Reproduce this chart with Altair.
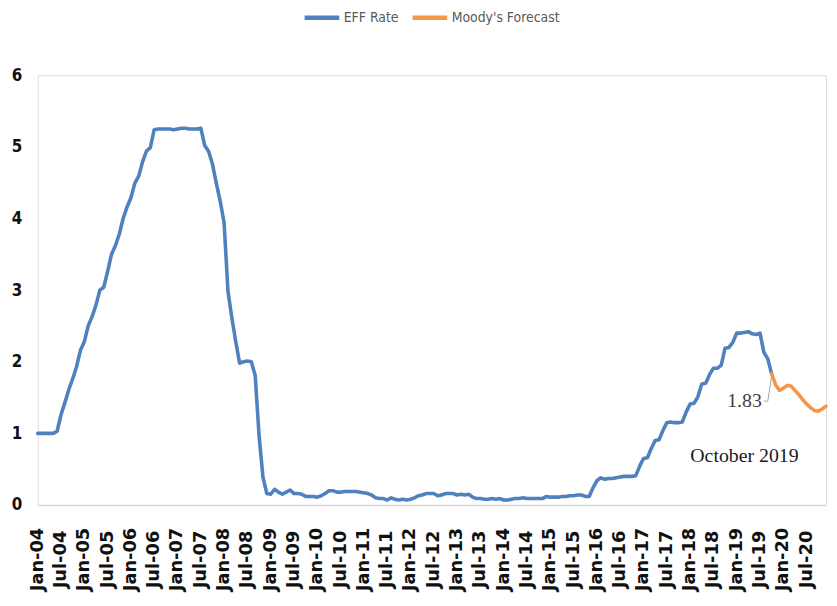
import altair as alt
import pandas as pd

# ---- data (monthly) ----
eff_rate = [
    # 2004
    1.00, 1.00, 1.00, 1.00, 1.00, 1.03, 1.26, 1.43, 1.61, 1.76, 1.93, 2.16,
    # 2005
    2.28, 2.50, 2.63, 2.79, 3.00, 3.04, 3.26, 3.50, 3.62, 3.78, 4.00, 4.16,
    # 2006
    4.29, 4.49, 4.59, 4.79, 4.94, 4.99, 5.24, 5.25, 5.25, 5.25, 5.25, 5.24,
    # 2007
    5.25, 5.26, 5.26, 5.25, 5.25, 5.25, 5.26, 5.02, 4.94, 4.76, 4.49, 4.24,
    # 2008
    3.94, 2.98, 2.61, 2.28, 1.98, 2.00, 2.01, 2.00, 1.81, 0.97, 0.39, 0.16,
    # 2009
    0.15, 0.22, 0.18, 0.15, 0.18, 0.21, 0.16, 0.16, 0.15, 0.12, 0.12, 0.12,
    # 2010
    0.11, 0.13, 0.16, 0.20, 0.20, 0.18, 0.18, 0.19, 0.19, 0.19, 0.19, 0.18,
    # 2011
    0.17, 0.16, 0.14, 0.10, 0.09, 0.09, 0.07, 0.10, 0.08, 0.07, 0.08, 0.07,
    # 2012
    0.08, 0.10, 0.13, 0.14, 0.16, 0.16, 0.16, 0.13, 0.14, 0.16, 0.16, 0.16,
    # 2013
    0.14, 0.15, 0.14, 0.15, 0.11, 0.09, 0.09, 0.08, 0.08, 0.09, 0.08, 0.09,
    # 2014
    0.07, 0.07, 0.08, 0.09, 0.09, 0.10, 0.09, 0.09, 0.09, 0.09, 0.09, 0.12,
    # 2015
    0.11, 0.11, 0.11, 0.12, 0.12, 0.13, 0.13, 0.14, 0.14, 0.12, 0.12, 0.24,
    # 2016
    0.34, 0.38, 0.36, 0.37, 0.37, 0.38, 0.39, 0.40, 0.40, 0.40, 0.41, 0.54,
    # 2017
    0.65, 0.66, 0.79, 0.90, 0.91, 1.04, 1.15, 1.16, 1.15, 1.15, 1.16, 1.30,
    # 2018
    1.41, 1.42, 1.51, 1.69, 1.70, 1.82, 1.91, 1.91, 1.95, 2.19, 2.20, 2.27,
    # 2019 (Jan-Oct)
    2.40, 2.40, 2.41, 2.42, 2.39, 2.38, 2.40, 2.13, 2.04, 1.83,
]

# Moody's forecast, Oct-2019 .. Dec-2020
forecast = [1.83, 1.68, 1.60, 1.63, 1.67, 1.66, 1.60, 1.54, 1.47, 1.41,
            1.36, 1.32, 1.31, 1.34, 1.38]

series_names = ["EFF Rate", "Moody's Forecast"]
series_colors = ["#4F81BD", "#F79646"]

# category-axis tick labels (every 6 months)
tick_labels = [f"{m}-{y:02d}" for y in range(4, 21) for m in ("Jan", "Jul")]

# annotation texts (position given as month and value)
note_labels = ["1.83", "October 2019"]
note_months = ["2019-03", "2019-03"]
note_values = [1.45, 0.69]
note_colors = ["#404040", "#1a1a1a"]

# leader line from the label to the Oct-2019 point
leader_months = ["2019-08", "2019-09", "2019-10"]
leader_values = [1.45, 1.45, 1.80]

START = pd.Period("2004-01", freq="M")


def month_index(periods):
    return [(pd.Period(p, freq="M") - START).n for p in periods]


# ---- tables ----
eff_months = pd.period_range("2004-01", periods=len(eff_rate), freq="M")
fc_months = pd.period_range("2019-10", periods=len(forecast), freq="M")

df = pd.concat([
    pd.DataFrame({"month": eff_months.astype(str), "value": eff_rate,
                  "series": series_names[0]}),
    pd.DataFrame({"month": fc_months.astype(str), "value": forecast,
                  "series": series_names[1]}),
], ignore_index=True)
df["m"] = month_index(df["month"])

notes = pd.DataFrame({"m": month_index(note_months), "value": note_values,
                      "label": note_labels, "color": note_colors})
leader = pd.DataFrame({"m": month_index(leader_months), "value": leader_values})
ticks_df = pd.DataFrame({"m": list(range(0, 6 * len(tick_labels), 6)),
                         "label": tick_labels})

PLOT_W, PLOT_H = 796, 434

x_scale = alt.Scale(domain=[0, len(eff_rate) + len(forecast) - 2], nice=False, zero=False)
y_scale = alt.Scale(domain=[0, 6])

x_axis = alt.Axis(labels=False, title=None, ticks=False, grid=False,
                  domainColor="#d9d9d9", domainWidth=1.5)
y_axis = alt.Axis(values=[0, 1, 2, 3, 4, 5, 6], format="d", title=None, domain=False,
                  ticks=False, grid=False, labelPadding=16,
                  labelFont="DejaVu Sans Condensed, Roboto Condensed, Liberation Sans",
                  labelFontWeight="bold", labelFontSize=17, labelColor="#111111")

lines = alt.Chart(df).mark_line(strokeWidth=3.6, strokeJoin="round", strokeCap="round").encode(
    x=alt.X("m:Q", scale=x_scale, axis=x_axis),
    y=alt.Y("value:Q", scale=y_scale, axis=y_axis),
    color=alt.Color("series:N",
                    scale=alt.Scale(domain=series_names, range=series_colors),
                    legend=alt.Legend(title=None, orient="none", direction="horizontal",
                                      legendX=267, legendY=-78,
                                      symbolType="stroke", symbolSize=1225,
                                      symbolStrokeWidth=4.5, labelOffset=2,
                                      columnPadding=4,
                                      labelFont="DejaVu Sans Condensed, Roboto Condensed, Liberation Sans",
                                      labelFontSize=14, labelColor="#595959")),
)

# x tick labels drawn on the x scale, below the axis line
x_labels = alt.Chart(ticks_df).mark_text(
    angle=270, align="center", baseline="middle", font="DejaVu Sans",
    fontWeight="bold", fontSize=18, color="#111111",
).encode(
    x=alt.X("m:Q", scale=x_scale),
    y=alt.value(PLOT_H + 55),
    text="label:N",
)

leader_line = alt.Chart(leader).mark_line(color="#a6a6a6", strokeWidth=1).encode(
    x=alt.X("m:Q", scale=x_scale),
    y=alt.Y("value:Q", scale=y_scale),
)

texts = alt.Chart(notes).mark_text(font="Liberation Serif", fontSize=20,
                                   align="center", baseline="middle").encode(
    x=alt.X("m:Q", scale=x_scale),
    y=alt.Y("value:Q", scale=y_scale),
    text="label:N",
    color=alt.Color("color:N", scale=None),
)

chart = alt.layer(lines, leader_line, texts, x_labels).properties(
    width=PLOT_W, height=PLOT_H,
    padding={"left": 30, "top": 65, "right": 3, "bottom": 90},
    autosize=alt.AutoSizeParams(type="none"),
).configure_view(stroke=None).configure(background="white")

chart.save("out.html", embed_options={"renderer": "svg", "actions": False})
